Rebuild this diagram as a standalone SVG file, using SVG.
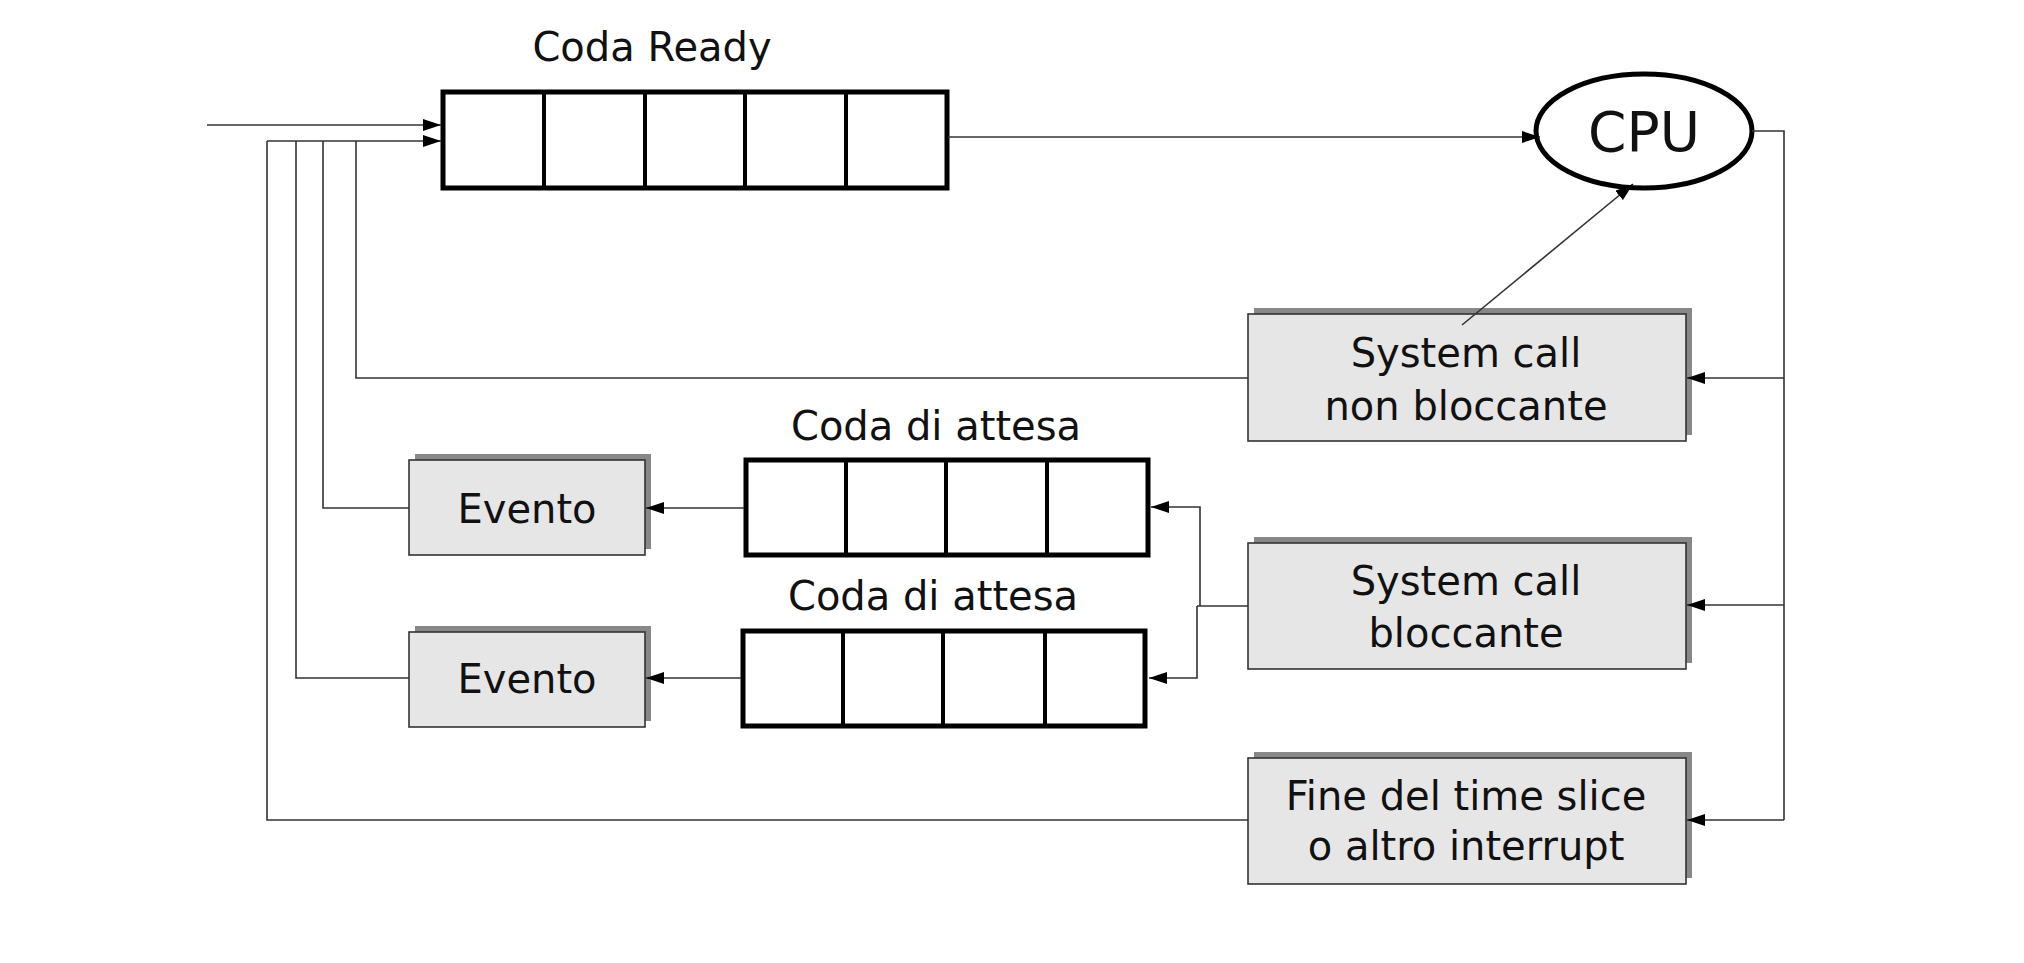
<svg xmlns="http://www.w3.org/2000/svg" width="2024" height="963" viewBox="0 0 2024 963">
<style>
.txt{font-family:"DejaVu Sans","Open Sans",sans-serif;font-size:40px;fill:#111;text-anchor:middle}
.q{fill:#fff;stroke:#000;stroke-width:5}
.div{stroke:#000;stroke-width:4}
.box{fill:#e6e6e6;stroke:#333;stroke-width:1.6}
.sh{fill:#888}
.ln{fill:none;stroke:#333;stroke-width:1.6}
.arr{fill:none;stroke:#333;stroke-width:1.6;marker-end:url(#ah)}
</style>
<defs>
<marker id="ah" markerUnits="userSpaceOnUse" markerWidth="18" markerHeight="12" refX="18" refY="6" orient="auto">
<path d="M0,0 L18,6 L0,12 z" fill="#000"/>
</marker>
</defs>
<rect width="2024" height="963" fill="#fff"/>

<g id="coda-ready">
<text class="txt" x="652" y="61">Coda Ready</text>
<rect class="q" x="443" y="92" width="504" height="96"/>
<line class="div" x1="544" y1="92" x2="544" y2="188"/>
<line class="div" x1="645" y1="92" x2="645" y2="188"/>
<line class="div" x1="745" y1="92" x2="745" y2="188"/>
<line class="div" x1="846" y1="92" x2="846" y2="188"/>
</g>

<g id="cpu">
<ellipse cx="1644" cy="131" rx="108" ry="57" fill="#fff" stroke="#000" stroke-width="5"/>
<text class="txt" x="1644" y="151" style="font-size:55px">CPU</text>
</g>

<g id="syscall-nonbloccante">
<rect class="sh" x="1254" y="308" width="438" height="127"/>
<rect class="box" x="1248" y="314" width="438" height="127"/>
<text class="txt" x="1466" y="367">System call</text>
<text class="txt" x="1466" y="420">non bloccante</text>
</g>

<g id="coda-attesa-1">
<text class="txt" x="936" y="440">Coda di attesa</text>
<rect class="q" x="746" y="460" width="402" height="95"/>
<line class="div" x1="846" y1="460" x2="846" y2="555"/>
<line class="div" x1="946" y1="460" x2="946" y2="555"/>
<line class="div" x1="1047" y1="460" x2="1047" y2="555"/>
</g>

<g id="coda-attesa-2">
<text class="txt" x="933" y="610">Coda di attesa</text>
<rect class="q" x="743" y="631" width="402" height="95"/>
<line class="div" x1="843" y1="631" x2="843" y2="726"/>
<line class="div" x1="943" y1="631" x2="943" y2="726"/>
<line class="div" x1="1045" y1="631" x2="1045" y2="726"/>
</g>

<g id="evento-1">
<rect class="sh" x="415" y="454" width="236" height="95"/>
<rect class="box" x="409" y="460" width="236" height="95"/>
<text class="txt" x="527" y="523">Evento</text>
</g>

<g id="evento-2">
<rect class="sh" x="415" y="626" width="236" height="95"/>
<rect class="box" x="409" y="632" width="236" height="95"/>
<text class="txt" x="527" y="693">Evento</text>
</g>

<g id="syscall-bloccante">
<rect class="sh" x="1254" y="537" width="438" height="126"/>
<rect class="box" x="1248" y="543" width="438" height="126"/>
<text class="txt" x="1466" y="595">System call</text>
<text class="txt" x="1466" y="647">bloccante</text>
</g>

<g id="fine-time-slice">
<rect class="sh" x="1254" y="752" width="438" height="126"/>
<rect class="box" x="1248" y="758" width="438" height="126"/>
<text class="txt" x="1466" y="810">Fine del time slice</text>
<text class="txt" x="1466" y="860">o altro interrupt</text>
</g>

<g id="connectors">
<line class="arr" x1="207" y1="125" x2="441" y2="125"/>
<line class="arr" x1="267" y1="141" x2="441" y2="141"/>
<path class="ln" d="M1248,820 H267 V141"/>
<path class="ln" d="M409,678 H296 V141"/>
<path class="ln" d="M409,508 H323 V141"/>
<path class="ln" d="M1248,378 H356 V141"/>
<line class="arr" x1="948" y1="137" x2="1540" y2="137"/>
<path class="ln" d="M1752,131 H1784 V820"/>
<line class="arr" x1="1784" y1="378" x2="1687" y2="378"/>
<line class="arr" x1="1784" y1="605" x2="1687" y2="605"/>
<line class="arr" x1="1784" y1="820" x2="1687" y2="820"/>
<line class="arr" x1="1462" y1="325" x2="1633" y2="184"/>
<path class="ln" d="M1248,606 H1197"/>
<path class="arr" d="M1200,606 V507 H1151"/>
<path class="arr" d="M1197,606 V678 H1149"/>
<line class="arr" x1="744" y1="508" x2="646" y2="508"/>
<line class="arr" x1="741" y1="678" x2="646" y2="678"/>
</g>
</svg>
